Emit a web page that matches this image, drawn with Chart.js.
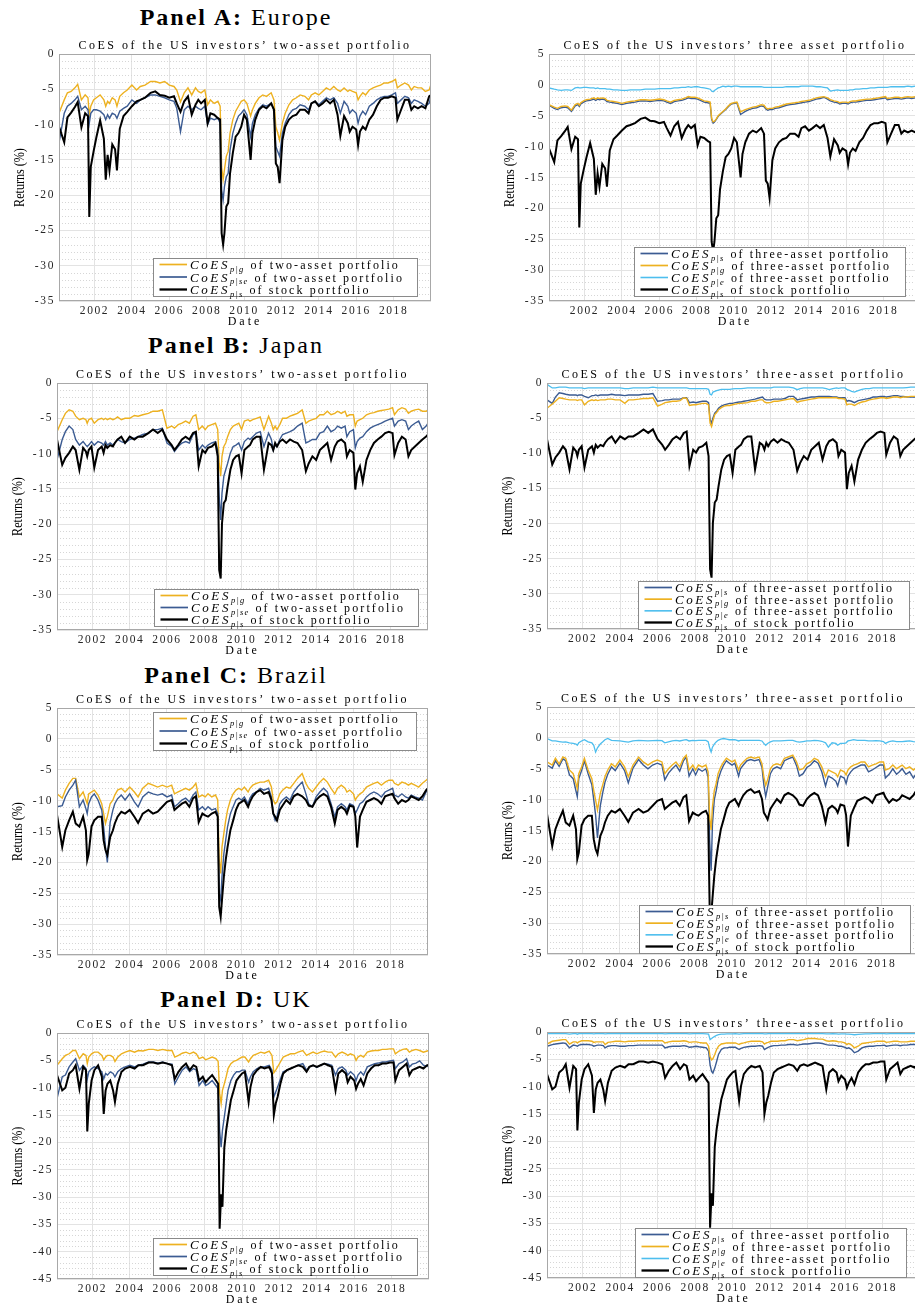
<!DOCTYPE html>
<html>
<head>
<meta charset="utf-8">
<script src="https://cdn.jsdelivr.net/npm/chart.js@4.4.1/dist/chart.umd.min.js"></script>
<style>
  html, body { margin: 0; padding: 0; width: 915px; height: 1305px; overflow: hidden; background: #fff; }
  .panel { position: absolute; transform: translateX(-50%); white-space: nowrap;
           font-family: "Liberation Serif", "Times New Roman", serif; font-size: 24px; line-height: 24px;
           letter-spacing: 2px; color: #000; }
  canvas { position: absolute; }
</style>
</head>
<body>
<div class="panel" style="left:236px; top:5px;"><b>Panel A:</b> Europe</div>
<div class="panel" style="left:236px; top:333px;"><b>Panel B:</b> Japan</div>
<div class="panel" style="left:236px; top:663px;"><b>Panel C:</b> Brazil</div>
<div class="panel" style="left:236px; top:987px;"><b>Panel D:</b> UK</div>

<canvas id="aL"></canvas><canvas id="aR"></canvas>
<canvas id="bL"></canvas><canvas id="bR"></canvas>
<canvas id="cL"></canvas><canvas id="cR"></canvas>
<canvas id="dL"></canvas><canvas id="dR"></canvas>

<script>
// dates as decimal years, one line per calendar year
const dates = [
  2000.10, 2000.38, 2000.55, 2000.75, 2000.95,
  2001.10, 2001.30, 2001.50, 2001.65, 2001.72, 2001.80, 2001.95,
  2002.10, 2002.30, 2002.50, 2002.60, 2002.70, 2002.80, 2002.95,
  2003.10, 2003.20, 2003.35, 2003.55, 2003.75,
  2004.00, 2004.25, 2004.45, 2004.70,
  2005.00, 2005.25, 2005.50, 2005.75,
  2006.00, 2006.25, 2006.40, 2006.60, 2006.80,
  2007.00, 2007.20, 2007.40, 2007.55, 2007.70, 2007.90,
  2008.05, 2008.20, 2008.40, 2008.60, 2008.72, 2008.80, 2008.88, 2008.95,
  2009.05, 2009.15, 2009.25, 2009.40, 2009.55, 2009.70, 2009.85,
  2010.00, 2010.15, 2010.35, 2010.45, 2010.60, 2010.80,
  2011.00, 2011.20, 2011.45, 2011.60, 2011.70, 2011.80, 2011.90,
  2012.05, 2012.20, 2012.40, 2012.60, 2012.80,
  2013.00, 2013.25, 2013.45, 2013.60, 2013.80,
  2014.00, 2014.20, 2014.40, 2014.60, 2014.80,
  2015.00, 2015.15, 2015.35, 2015.55, 2015.65, 2015.80,
  2016.00, 2016.10, 2016.20, 2016.35, 2016.50, 2016.70, 2016.90,
  2017.10, 2017.30, 2017.50, 2017.70, 2017.90,
  2018.10, 2018.20, 2018.40, 2018.60, 2018.80, 2018.95,
  2019.10, 2019.30, 2019.50, 2019.70, 2019.90, 2020.00
];

const xTicks = [2002, 2004, 2006, 2008, 2010, 2012, 2014, 2016, 2018];

// ---- Panel A: Europe ----
const euStock = [
  -10.3, -12.5, -9.0, -8.3, -7.5,
  -6.8, -10.4, -8.4, -8.8, -23.1, -16.0, -13.8,
  -11.8, -9.4, -12.0, -17.8, -14.3, -16.5, -12.8,
  -13.5, -16.5, -10.6, -8.8, -8.2,
  -7.4, -6.7, -6.5, -6.2,
  -5.5, -5.3, -5.8, -5.9,
  -6.2, -6.0, -7.0, -8.2, -6.7,
  -6.0, -8.6, -7.2, -6.5, -7.0, -6.5,
  -9.8, -8.4, -8.6, -9.1, -9.3, -25.4, -27.0, -25.4,
  -21.6, -21.1, -16.9, -14.0, -11.7, -11.2, -10.3,
  -8.6, -9.3, -15.0, -11.2, -9.3, -7.9,
  -7.4, -7.7, -7.0, -7.9, -15.5, -16.0, -18.3,
  -12.2, -10.3, -9.3, -8.8, -8.6,
  -7.9, -7.9, -8.4, -7.0, -6.7,
  -7.4, -7.0, -6.5, -7.0, -6.5,
  -8.6, -11.6, -8.8, -9.8, -11.0, -10.3,
  -10.7, -12.9, -11.0, -10.3, -10.7, -9.3, -8.6,
  -7.4, -6.5, -6.2, -6.2, -6.0,
  -6.2, -9.3, -7.9, -6.5, -6.5, -7.9,
  -7.4, -7.7, -7.4, -7.7, -6.0, -5.8
];
const euTwoG = [
  -8.4, -6.5, -5.5, -5.3, -4.8,
  -4.3, -6.5, -5.8, -6.2, -8.7, -7.4, -6.5,
  -6.2, -5.8, -6.5, -7.4, -6.7, -7.0, -6.2,
  -6.5, -7.4, -6.0, -5.5, -5.1,
  -4.4, -5.1, -4.6, -4.4,
  -3.9, -3.9, -4.1, -3.9,
  -4.4, -4.6, -5.1, -6.8, -5.5,
  -4.8, -5.8, -4.8, -5.3, -5.5, -5.1,
  -7.2, -6.5, -7.0, -6.7, -7.4, -16.0, -17.8, -16.4,
  -14.5, -13.8, -11.2, -9.3, -8.1, -7.4, -6.7,
  -6.5, -7.0, -8.8, -7.9, -7.0, -6.2,
  -5.8, -6.0, -5.5, -6.5, -10.3, -11.2, -12.2,
  -9.8, -8.4, -7.2, -6.5, -6.2,
  -5.8, -6.0, -6.5, -5.8, -5.5,
  -5.8, -5.3, -4.8, -5.1, -4.6,
  -5.1, -5.3, -4.8, -5.3, -5.1, -5.3,
  -5.5, -6.5, -6.0, -5.5, -5.8, -5.1, -4.8,
  -4.6, -4.4, -4.1, -4.1, -3.9,
  -3.6, -4.8, -4.4, -4.1, -4.4, -5.1,
  -4.6, -4.8, -4.8, -5.3, -5.1, -4.3
];
const euTwoSE = [
  -12.6, -8.4, -7.4, -7.0, -6.5,
  -6.0, -7.9, -7.4, -7.9, -9.8, -8.4, -7.9,
  -7.9, -8.1, -8.6, -9.3, -8.6, -9.1, -8.4,
  -8.6, -9.1, -8.1, -7.7, -7.4,
  -6.5, -7.0, -6.5, -6.2,
  -5.8, -5.8, -6.0, -6.2,
  -6.5, -6.7, -7.7, -11.0, -7.9,
  -7.4, -7.9, -7.4, -7.7, -7.9, -7.4,
  -10.0, -9.1, -9.3, -9.1, -9.8, -19.3, -20.7, -18.8,
  -17.4, -16.9, -13.6, -11.2, -9.8, -8.8, -8.4,
  -7.9, -8.6, -11.7, -9.8, -8.6, -7.7,
  -7.2, -7.4, -7.0, -7.9, -13.1, -13.8, -14.5,
  -11.2, -9.8, -8.6, -7.9, -7.7,
  -7.2, -7.4, -7.9, -7.0, -6.7,
  -7.2, -6.7, -6.2, -6.5, -6.2,
  -7.0, -8.4, -6.7, -7.4, -8.4, -7.9,
  -8.4, -9.8, -8.8, -8.1, -8.6, -7.4, -7.0,
  -6.5, -6.2, -6.0, -6.0, -5.8,
  -5.5, -7.0, -6.5, -6.0, -6.2, -7.0,
  -6.5, -6.7, -7.0, -7.4, -7.0, -6.0
];
const euThreeS = [
  -3.3, -3.8, -4.0, -3.7, -3.6,
  -3.7, -4.3, -3.4, -3.2, -3.5, -3.1, -2.8,
  -2.6, -2.5, -2.3, -2.5, -2.3, -2.4, -2.3,
  -2.4, -2.7, -2.8, -2.9, -3.0,
  -3.2, -3.0, -2.9, -2.8,
  -2.6, -2.6, -2.7, -2.6,
  -2.5, -2.6, -2.8, -3.0, -2.7,
  -2.6, -2.5, -2.3, -2.1, -2.2, -2.2,
  -2.3, -2.5, -2.8, -2.9, -3.0, -5.6, -6.2, -6.0,
  -5.6, -5.1, -4.8, -4.4, -4.0, -3.5, -3.1,
  -3.0, -2.9, -4.8, -4.6, -4.3, -4.0,
  -3.8, -3.7, -3.4, -3.5, -3.9, -4.1, -4.0,
  -4.0, -3.8, -3.7, -3.5, -3.3,
  -3.2, -3.1, -3.0, -2.9, -2.8,
  -2.7, -2.5, -2.3, -2.2, -2.0,
  -2.3, -2.6, -2.8, -2.9, -3.1, -3.0,
  -3.0, -3.1, -2.9, -2.8, -2.8, -2.7, -2.6,
  -2.5, -2.5, -2.4, -2.3, -2.2,
  -2.1, -2.4, -2.3, -2.2, -2.2, -2.3,
  -2.2, -2.1, -2.2, -2.1, -2.1, -2.2
];
const euThreeG = [
  -3.2, -3.6, -3.8, -3.5, -3.4,
  -3.5, -4.1, -3.2, -3.0, -3.3, -2.9, -2.6,
  -2.4, -2.3, -2.1, -2.3, -2.1, -2.2, -2.1,
  -2.2, -2.5, -2.6, -2.7, -2.8,
  -3.0, -2.8, -2.7, -2.6,
  -2.4, -2.4, -2.5, -2.4,
  -2.3, -2.4, -2.6, -2.8, -2.5,
  -2.4, -2.3, -2.1, -1.9, -2.0, -2.0,
  -2.1, -2.3, -2.6, -2.7, -2.8, -5.4, -6.0, -5.9,
  -5.5, -5.0, -4.7, -4.3, -3.9, -3.4, -3.0,
  -2.9, -2.8, -4.4, -4.2, -4.0, -3.8,
  -3.6, -3.5, -3.2, -3.3, -3.7, -3.9, -3.8,
  -3.8, -3.6, -3.5, -3.3, -3.1,
  -3.0, -2.9, -2.8, -2.7, -2.6,
  -2.5, -2.3, -2.1, -2.0, -1.9,
  -2.1, -2.4, -2.6, -2.7, -2.9, -2.8,
  -2.8, -2.9, -2.7, -2.6, -2.6, -2.5, -2.4,
  -2.3, -2.3, -2.2, -2.1, -2.0,
  -1.9, -2.2, -2.1, -2.0, -2.0, -2.1,
  -2.0, -1.9, -2.0, -1.9, -1.9, -2.0
];
const euThreeE = [
  -0.5, -0.7, -0.8, -0.9, -0.8,
  -0.8, -0.9, -0.5, -0.4, -0.5, -0.5, -0.4,
  -0.4, -0.5, -0.5, -0.6, -0.5, -0.6, -0.6,
  -0.6, -0.7, -0.7, -0.8, -0.8,
  -0.9, -0.9, -0.8, -0.8,
  -0.8, -0.7, -0.7, -0.7,
  -0.6, -0.6, -0.6, -0.6, -0.5,
  -0.5, -0.4, -0.4, -0.3, -0.4, -0.3,
  -0.3, -0.4, -0.5, -0.6, -0.7, -1.0, -1.1, -0.9,
  -0.7, -0.5, -0.4, -0.2, -0.3, -0.2, -0.3,
  -0.2, -0.2, -0.3, -0.3, -0.3, -0.3,
  -0.3, -0.3, -0.3, -0.4, -0.4, -0.4, -0.4,
  -0.4, -0.4, -0.4, -0.4, -0.3,
  -0.3, -0.3, -0.3, -0.2, -0.2,
  -0.2, -0.2, -0.3, -0.3, -0.4,
  -0.5, -1.0, -0.9, -0.8, -0.9, -0.9,
  -0.9, -0.9, -0.8, -0.8, -0.7, -0.7, -0.6,
  -0.6, -0.5, -0.5, -0.4, -0.4,
  -0.4, -0.4, -0.3, -0.3, -0.3, -0.3,
  -0.3, -0.2, -0.3, -0.2, -0.2, -0.2
];

// ---- Panel B: Japan ----
const jpStock = [
  -8.0, -11.6, -10.6, -9.9, -9.0,
  -9.5, -12.3, -9.2, -9.7, -10.4, -9.5, -9.0,
  -12.0, -9.5, -9.0, -9.9, -8.8, -9.2, -8.8,
  -9.0, -8.5, -8.0, -7.6, -8.5,
  -7.6, -8.0, -7.6, -7.6,
  -7.1, -6.6, -7.1, -6.6,
  -8.0, -8.8, -9.5, -8.8, -8.0,
  -7.6, -8.0, -7.1, -6.9, -11.8, -9.5,
  -9.9, -9.2, -9.0, -8.5, -10.4, -26.5, -27.7, -19.9,
  -17.0, -16.6, -14.7, -12.3, -10.9, -10.4, -10.2,
  -12.8, -9.5, -9.0, -8.8, -8.0, -7.6,
  -7.6, -12.3, -8.5, -8.8, -9.5, -8.5, -9.0,
  -8.3, -8.0, -8.5, -8.0, -8.3,
  -8.5, -9.5, -12.5, -11.4, -10.4,
  -10.9, -9.5, -9.0, -8.5, -10.9,
  -9.0, -8.3, -8.0, -8.5, -10.4, -9.5,
  -9.9, -15.1, -12.8, -11.8, -14.0, -10.9, -9.5,
  -8.5, -8.0, -7.6, -7.1, -6.9,
  -7.1, -10.2, -8.5, -7.6, -8.0, -10.4,
  -9.5, -9.0, -8.5, -8.0, -7.6, -7.3
];
const jpTwoG = [
  -6.9, -5.2, -4.3, -3.8, -4.0,
  -4.7, -5.2, -5.0, -5.2, -5.7, -5.2, -5.0,
  -5.7, -5.2, -5.0, -5.2, -5.0, -5.2, -5.0,
  -5.2, -5.1, -4.8, -5.2, -5.0,
  -5.0, -4.6, -4.7, -4.5,
  -4.3, -4.0, -4.0, -3.8,
  -6.4, -6.1, -6.4, -5.9, -5.7,
  -5.4, -5.7, -4.7, -4.5, -6.6, -6.1,
  -6.6, -6.1, -5.9, -5.7, -6.6, -11.4, -13.2, -10.4,
  -9.0, -8.5, -7.6, -6.6, -6.1, -5.9, -5.7,
  -6.6, -5.4, -5.2, -5.4, -5.2, -5.0,
  -4.8, -6.6, -4.7, -5.7, -6.6, -6.1, -6.6,
  -5.9, -5.0, -5.0, -4.7, -4.5,
  -4.3, -3.8, -5.7, -5.4, -5.2,
  -5.0, -4.5, -4.5, -4.0, -4.5,
  -4.3, -4.0, -4.3, -4.0, -4.7, -4.5,
  -4.5, -6.1, -5.4, -5.2, -5.0, -4.5, -4.3,
  -4.2, -4.0, -3.9, -3.8, -3.7,
  -3.5, -4.5, -3.8, -3.5, -3.7, -4.3,
  -4.0, -3.8, -3.7, -4.0, -4.0, -3.8
];
const jpTwoSE = [
  -10.9, -8.0, -6.9, -6.1, -6.6,
  -8.0, -8.8, -8.3, -8.8, -9.0, -8.8, -8.3,
  -8.8, -8.3, -8.5, -8.8, -8.3, -8.8, -8.5,
  -8.8, -8.5, -8.0, -8.3, -8.5,
  -8.0, -7.8, -7.6, -7.3,
  -7.1, -6.6, -6.6, -6.4,
  -8.5, -9.0, -9.7, -9.0, -8.5,
  -8.3, -8.5, -7.3, -7.1, -9.5, -8.8,
  -9.2, -8.8, -8.5, -8.3, -9.5, -16.1, -19.4, -15.6,
  -13.2, -12.3, -11.4, -9.9, -9.0, -8.8, -8.5,
  -9.5, -8.3, -7.8, -8.0, -7.6, -7.1,
  -6.9, -9.0, -7.1, -8.0, -9.5, -8.8, -9.0,
  -8.0, -7.3, -7.1, -6.9, -6.6,
  -6.1, -5.7, -8.5, -8.3, -8.0,
  -8.0, -7.1, -6.9, -6.1, -6.9,
  -6.6, -6.1, -6.4, -6.1, -7.6, -6.9,
  -6.6, -9.2, -8.3, -7.8, -7.6, -6.9, -6.4,
  -6.1, -5.9, -5.7, -5.4, -5.2,
  -5.0, -6.1, -5.4, -5.2, -5.4, -6.6,
  -6.1, -5.7, -5.4, -6.6, -6.1, -5.7
];
const jpThreeS = [
  -2.4, -2.9, -2.0, -1.4, -1.5,
  -1.6, -1.7, -1.7, -1.7, -1.8, -1.7, -1.7,
  -1.9, -2.1, -1.8, -1.8, -1.7, -1.8, -1.7,
  -1.7, -1.7, -1.7, -1.6, -1.7,
  -1.7, -1.8, -1.7, -1.7,
  -1.7, -1.6, -1.6, -1.5,
  -2.6, -2.5, -2.4, -2.4, -2.3,
  -2.3, -2.3, -2.1, -2.1, -2.8, -2.7,
  -2.8, -2.7, -2.6, -2.6, -2.8, -5.2, -5.7, -5.0,
  -4.3, -4.0, -3.6, -3.3, -3.1, -3.0, -2.9,
  -2.9, -2.8, -2.7, -2.7, -2.6, -2.5,
  -2.4, -2.3, -2.1, -2.0, -2.3, -2.4, -2.4,
  -2.4, -2.3, -2.3, -2.3, -2.2,
  -1.9, -1.9, -2.4, -2.3, -2.2,
  -2.1, -2.0, -2.0, -1.9, -1.9,
  -1.9, -1.9, -2.0, -2.0, -2.1, -2.1,
  -2.1, -2.6, -2.5, -2.6, -2.8, -2.5, -2.4,
  -2.3, -2.2, -2.0, -2.0, -1.9,
  -1.9, -2.0, -1.9, -1.8, -1.8, -1.9,
  -1.9, -2.0, -2.0, -2.0, -2.1, -2.1
];
const jpThreeG = [
  -3.6, -3.0, -2.6, -2.1, -2.2,
  -2.3, -2.4, -2.4, -2.4, -2.5, -2.4, -2.4,
  -3.1, -2.6, -2.4, -2.5, -2.4, -2.5, -2.4,
  -2.4, -2.4, -2.3, -2.3, -2.4,
  -2.4, -2.9, -2.4, -2.4,
  -2.3, -2.2, -2.2, -2.1,
  -3.3, -3.0, -2.8, -2.7, -2.6,
  -2.6, -2.5, -2.1, -2.2, -3.2, -3.1,
  -3.1, -3.0, -2.9, -2.9, -3.1, -5.7, -6.2, -5.4,
  -4.5, -4.2, -3.8, -3.5, -3.3, -3.2, -3.2,
  -3.1, -3.0, -2.9, -2.9, -2.85, -2.8,
  -2.6, -2.6, -2.4, -2.4, -2.7, -2.8, -2.8,
  -2.75, -2.6, -2.6, -2.5, -2.4,
  -2.3, -2.2, -2.75, -2.6, -2.5,
  -2.4, -2.3, -2.2, -2.1, -2.1,
  -2.1, -2.1, -2.1, -2.1, -2.2, -2.2,
  -2.3, -3.1, -3.0, -3.0, -3.2, -2.9, -2.7,
  -2.6, -2.4, -2.3, -2.2, -2.1,
  -2.1, -2.2, -2.1, -2.0, -2.0, -2.1,
  -2.0, -2.0, -1.9, -1.9, -1.9, -1.9
];
const jpThreeE = [
  -0.2, -0.7, -0.7, -0.6, -0.6,
  -0.6, -0.7, -0.7, -0.7, -0.7, -0.7, -0.7,
  -0.8, -0.7, -0.7, -0.7, -0.7, -0.7, -0.7,
  -0.7, -0.7, -0.7, -0.7, -0.7,
  -0.7, -0.8, -0.8, -0.7,
  -0.7, -0.7, -0.7, -0.6,
  -0.7, -0.7, -0.7, -0.7, -0.7,
  -0.7, -0.7, -0.7, -0.7, -0.8, -0.8,
  -0.8, -0.8, -0.8, -0.8, -0.9, -1.6, -1.7, -1.3,
  -1.2, -1.1, -1.0, -0.9, -0.9, -0.9, -0.9,
  -0.85, -0.8, -0.8, -0.8, -0.75, -0.7,
  -0.7, -0.7, -0.7, -0.7, -0.7, -0.7, -0.7,
  -0.7, -0.6, -0.6, -0.6, -0.6,
  -0.6, -0.7, -0.95, -0.8, -0.7,
  -0.7, -0.7, -0.7, -0.7, -0.7,
  -0.8, -0.95, -0.8, -0.7, -0.75, -0.7,
  -0.7, -0.9, -1.0, -1.2, -1.3, -1.1, -0.9,
  -0.8, -0.8, -0.7, -0.7, -0.7,
  -0.7, -0.7, -0.7, -0.7, -0.7, -0.7,
  -0.7, -0.65, -0.6, -0.6, -0.6, -0.6
];

// ---- Panel C: Brazil ----
const brStock = [
  -12.3, -17.5, -14.8, -13.2, -11.8,
  -13.7, -14.2, -12.6, -14.8, -19.6, -18.6, -14.2,
  -13.2, -12.6, -12.6, -16.4, -18.0, -18.8, -15.9,
  -14.8, -13.7, -12.6, -11.8, -12.1,
  -11.5, -12.6, -13.6, -12.1,
  -11.5, -12.1, -11.8, -11.0,
  -10.2, -9.9, -11.5, -11.0, -10.5,
  -10.2, -11.0, -9.6, -9.3, -13.5, -12.1,
  -12.4, -12.6, -12.1, -11.8, -12.6, -27.2, -28.8, -26.1,
  -22.3, -19.6, -17.5, -14.8, -13.2, -11.5, -10.5,
  -10.2, -9.9, -11.0, -10.2, -9.3, -8.6,
  -8.3, -8.9, -8.6, -9.9, -12.1, -12.6, -13.2,
  -11.5, -10.8, -9.9, -10.5, -9.3,
  -8.9, -9.3, -9.9, -10.8, -11.0,
  -9.9, -9.3, -8.9, -9.3, -11.0,
  -13.7, -11.5, -11.0, -11.5, -12.1, -10.8,
  -11.0, -12.5, -17.6, -12.6, -11.5, -10.2, -9.9,
  -9.6, -9.9, -10.5, -9.3, -9.1,
  -8.9, -9.6, -10.5, -9.9, -10.2, -9.9,
  -9.3, -9.6, -9.9, -9.3, -8.3, -8.0
];
const brTwoG = [
  -8.9, -9.6, -8.3, -7.2, -6.4,
  -6.4, -9.4, -8.6, -9.9, -10.5, -8.9, -8.6,
  -8.3, -9.1, -10.5, -12.1, -13.7, -12.6, -10.5,
  -9.9, -9.1, -8.3, -8.0, -8.6,
  -7.8, -8.6, -9.4, -8.0,
  -7.2, -7.5, -7.8, -7.5,
  -7.8, -7.5, -8.9, -8.6, -8.3,
  -8.0, -8.3, -7.8, -7.2, -9.4, -9.1,
  -9.4, -8.9, -9.4, -9.1, -9.9, -19.6, -21.8, -17.5,
  -15.3, -13.2, -11.5, -9.9, -8.9, -8.3, -8.0,
  -8.3, -7.8, -8.6, -8.0, -7.5, -7.2,
  -7.0, -7.0, -6.7, -7.8, -9.9, -10.5, -10.2,
  -8.9, -8.3, -7.8, -8.0, -7.2,
  -6.4, -5.6, -7.2, -8.0, -8.6,
  -7.8, -7.0, -6.4, -7.0, -8.0,
  -8.9, -8.0, -7.5, -8.0, -8.6, -8.3,
  -8.9, -9.9, -9.4, -8.9, -8.6, -7.8, -7.5,
  -7.2, -7.0, -7.5, -7.0, -6.7,
  -6.7, -7.2, -7.5, -7.0, -7.2, -7.5,
  -7.2, -7.5, -7.8, -7.2, -6.7, -6.4
];
const brTwoSE = [
  -11.0, -10.8, -9.4, -8.3, -7.5,
  -6.7, -11.0, -9.9, -11.3, -12.1, -10.5, -9.4,
  -8.9, -9.9, -11.5, -14.2, -17.5, -20.0, -13.5,
  -11.5, -10.5, -9.7, -9.1, -9.9,
  -8.9, -10.2, -11.0, -9.4,
  -8.6, -8.9, -9.1, -8.9,
  -9.4, -9.1, -11.0, -10.5, -9.9,
  -9.6, -10.2, -9.1, -8.6, -11.5, -11.0,
  -11.5, -11.0, -11.5, -11.3, -12.1, -25.0, -26.1, -22.3,
  -18.6, -16.4, -14.2, -12.1, -11.0, -9.9, -9.6,
  -9.9, -9.4, -10.5, -9.6, -8.9, -8.6,
  -8.0, -8.3, -8.0, -9.4, -12.1, -13.2, -12.6,
  -10.5, -9.9, -9.4, -9.9, -8.6,
  -7.8, -7.0, -8.9, -10.5, -11.0,
  -9.4, -8.6, -8.0, -8.6, -10.5,
  -12.6, -11.0, -10.5, -11.0, -11.5, -10.5,
  -10.8, -12.1, -11.5, -10.5, -10.2, -9.4, -8.9,
  -8.6, -8.9, -9.4, -8.6, -8.3,
  -8.0, -9.1, -9.4, -8.9, -9.4, -9.6,
  -9.1, -9.4, -9.6, -9.9, -8.6, -8.0
];
const brThreeS = [
  -4.4, -4.9, -3.7, -4.6, -3.4,
  -3.7, -6.0, -6.6, -8.6, -9.5, -6.6, -5.3,
  -3.7, -5.8, -7.6, -10.0, -12.5, -16.2, -11.0,
  -8.6, -7.2, -5.9, -4.7, -5.3,
  -4.1, -5.3, -7.3, -4.9,
  -3.5, -4.4, -5.0, -4.4,
  -4.1, -4.4, -6.8, -5.7, -5.0,
  -4.4, -5.4, -3.7, -3.1, -6.2, -5.0,
  -6.0, -5.0, -5.4, -5.0, -6.4, -16.5, -21.5, -14.0,
  -10.0, -8.6, -6.8, -5.4, -4.4, -3.7, -4.1,
  -4.4, -4.1, -6.2, -5.0, -4.4, -3.7,
  -3.5, -3.7, -3.5, -4.8, -7.6, -9.5, -8.0,
  -5.8, -5.0, -4.7, -5.0, -3.7,
  -3.4, -3.1, -4.5, -6.2, -5.8,
  -4.8, -4.4, -3.7, -4.1, -5.5,
  -7.8, -6.2, -6.5, -7.0, -7.8, -6.2,
  -6.5, -7.4, -6.2, -5.5, -5.0, -4.7, -4.4,
  -4.4, -5.5, -5.2, -4.8, -4.4,
  -4.4, -6.5, -5.9, -5.0, -5.9, -5.5,
  -5.0, -5.9, -5.5, -6.5, -5.6, -5.0
];
const brThreeG = [
  -3.9, -4.4, -3.3, -4.2, -3.1,
  -3.3, -5.2, -5.8, -7.4, -8.2, -5.8, -4.7,
  -3.3, -5.2, -6.6, -8.5, -10.1, -11.7, -9.0,
  -7.4, -6.3, -5.2, -4.2, -4.7,
  -3.6, -4.7, -6.3, -4.4,
  -3.1, -3.9, -4.4, -3.9,
  -3.6, -3.9, -5.8, -5.0, -4.4,
  -3.9, -4.7, -3.3, -2.8, -5.2, -4.4,
  -5.2, -4.4, -4.7, -4.4, -5.5, -12.8, -14.9, -11.2,
  -8.5, -7.4, -5.8, -4.7, -3.9, -3.3, -3.6,
  -3.9, -3.6, -5.2, -4.4, -3.9, -3.3,
  -3.1, -3.3, -3.1, -4.2, -6.3, -7.7, -6.8,
  -5.0, -4.4, -4.2, -4.4, -3.3,
  -3.1, -2.8, -3.9, -5.2, -5.0,
  -4.2, -3.9, -3.3, -3.6, -4.7,
  -6.3, -5.2, -5.5, -5.8, -6.3, -5.2,
  -5.5, -6.0, -5.2, -4.7, -4.4, -4.2, -3.9,
  -3.9, -4.7, -4.4, -4.2, -3.9,
  -3.9, -5.2, -5.0, -4.4, -5.0, -4.7,
  -4.4, -5.0, -4.7, -5.2, -4.7, -4.4
];
const brThreeE = [
  -0.1, -0.5, -0.5, -0.6, -0.7,
  -0.65, -0.8, -0.9, -1.0, -1.2, -0.8, -0.5,
  -0.3, -0.65, -0.8, -1.2, -2.3, -1.6, -1.0,
  -0.6, -0.3, -0.1, -0.4, -0.45,
  -0.5, -0.6, -0.7, -0.5,
  -0.4, -0.45, -0.5, -0.45,
  -0.4, -0.45, -0.8, -0.65, -0.5,
  -0.4, -0.5, -0.35, -0.3, -0.5, -0.4,
  -0.45, -0.4, -0.4, -0.4, -0.6, -1.6, -2.3, -1.5,
  -1.0, -0.65, -0.4, -0.2, -0.1, -0.2, -0.3,
  -0.3, -0.3, -0.5, -0.4, -0.4, -0.4,
  -0.4, -0.4, -0.4, -0.5, -0.9, -1.2, -0.9,
  -0.65, -0.5, -0.5, -0.5, -0.45,
  -0.4, -0.4, -0.6, -0.7, -0.6,
  -0.5, -0.5, -0.4, -0.45, -0.55,
  -0.8, -1.5, -0.8, -0.9, -1.2, -0.9,
  -0.9, -0.8, -0.5, -0.4, -0.3, -0.4, -0.4,
  -0.4, -0.5, -0.5, -0.45, -0.5,
  -0.6, -0.9, -0.6, -0.5, -0.6, -0.6,
  -0.6, -0.55, -0.5, -0.6, -0.65, -0.65
];

// ---- Panel D: UK ----
const ukStock = [
  -7.7, -10.5, -10.0, -7.4, -6.8,
  -5.9, -10.2, -6.2, -6.8, -18.0, -12.9, -8.7,
  -6.8, -5.9, -8.0, -14.8, -10.5, -9.3, -8.7,
  -10.5, -12.6, -9.3, -7.1, -6.5,
  -6.2, -6.5, -5.9, -5.9,
  -5.4, -5.4, -5.6, -5.4,
  -5.6, -5.9, -8.4, -7.1, -6.2,
  -5.6, -6.8, -5.9, -6.2, -8.7, -8.0,
  -9.0, -8.4, -7.7, -8.7, -9.3, -35.8, -29.5, -31.8,
  -21.0, -17.8, -15.5, -12.3, -10.5, -8.7, -8.0,
  -7.4, -7.1, -12.6, -9.9, -7.7, -6.8,
  -6.2, -6.5, -6.2, -7.4, -15.0, -12.9, -11.7,
  -9.3, -7.4, -6.8, -6.5, -6.2,
  -5.9, -6.2, -7.1, -6.2, -5.9,
  -6.2, -5.9, -5.6, -5.9, -6.2,
  -10.5, -7.4, -6.8, -7.4, -9.0, -8.0,
  -8.7, -10.2, -9.3, -8.4, -9.6, -7.4, -6.5,
  -5.9, -5.9, -5.6, -5.6, -5.4,
  -5.4, -8.7, -6.8, -6.2, -5.6, -7.7,
  -6.8, -6.5, -6.2, -6.5, -5.9, -5.9
];
const ukTwoG = [
  -5.9, -4.7, -4.1, -3.8, -3.2,
  -3.2, -4.7, -3.8, -4.1, -5.6, -4.4, -3.8,
  -3.5, -3.5, -4.1, -4.9, -4.4, -4.1, -4.1,
  -4.4, -5.2, -4.4, -3.8, -3.5,
  -3.2, -3.5, -3.2, -3.3,
  -3.0, -3.0, -3.2, -3.0,
  -3.2, -3.2, -4.4, -4.1, -3.7,
  -3.5, -3.8, -3.5, -3.8, -4.7, -4.4,
  -4.9, -4.7, -4.4, -4.7, -5.2, -11.0, -12.9, -10.5,
  -9.3, -8.0, -6.5, -5.6, -5.2, -5.0, -4.7,
  -4.4, -4.4, -5.3, -4.7, -4.1, -3.8,
  -3.5, -3.7, -3.3, -4.1, -7.3, -6.8, -6.2,
  -5.3, -4.4, -4.1, -3.8, -3.8,
  -3.5, -3.2, -4.1, -3.8, -3.5,
  -3.8, -3.5, -3.3, -3.5, -3.5,
  -4.4, -3.8, -3.5, -3.8, -4.1, -3.8,
  -4.1, -5.0, -4.4, -4.1, -4.4, -3.5, -3.3,
  -3.2, -3.2, -3.0, -3.0, -2.9,
  -2.9, -3.8, -3.3, -3.0, -2.9, -3.5,
  -3.2, -3.0, -3.2, -3.5, -3.3, -3.2
];
const ukTwoSE = [
  -12.0, -8.0, -7.7, -6.2, -5.3,
  -4.7, -6.8, -5.9, -6.5, -8.4, -7.1, -6.5,
  -6.2, -6.5, -7.1, -8.4, -7.4, -7.7, -7.1,
  -7.4, -8.0, -7.1, -6.5, -6.2,
  -5.9, -6.2, -5.9, -5.7,
  -5.3, -5.3, -5.5, -5.3,
  -5.6, -5.7, -9.3, -8.0, -6.8,
  -6.2, -7.1, -6.5, -6.8, -9.6, -8.7,
  -9.6, -9.3, -8.7, -9.6, -10.2, -17.8, -20.9, -17.8,
  -15.4, -12.9, -10.5, -8.7, -7.7, -7.1, -7.1,
  -6.8, -6.8, -9.0, -8.0, -7.1, -6.5,
  -6.2, -6.2, -5.9, -6.8, -11.7, -10.8, -9.9,
  -8.4, -7.1, -6.8, -6.5, -6.2,
  -5.9, -5.6, -6.8, -6.2, -5.9,
  -6.3, -5.9, -5.6, -5.7, -5.9,
  -7.7, -6.5, -6.2, -6.8, -7.7, -7.1,
  -7.7, -8.7, -7.7, -7.1, -7.7, -6.2, -5.9,
  -5.6, -5.5, -5.3, -5.3, -5.1,
  -5.0, -6.5, -5.6, -5.3, -4.7, -6.2,
  -5.7, -5.5, -5.1, -5.9, -6.1, -5.6
];
const ukThreeS = [
  -2.6, -2.3, -2.2, -2.1, -2.0,
  -2.1, -2.9, -2.4, -2.5, -2.6, -2.4, -2.3,
  -2.3, -2.3, -2.4, -2.6, -2.5, -2.4, -2.4,
  -2.5, -2.9, -2.6, -2.5, -2.5,
  -2.6, -2.6, -2.5, -2.5,
  -2.4, -2.4, -2.4, -2.4,
  -2.4, -2.4, -2.9, -2.7, -2.6,
  -2.6, -2.6, -2.5, -2.6, -2.8, -2.7,
  -2.6, -2.7, -2.8, -2.9, -3.5, -6.0, -7.2, -7.5,
  -6.6, -5.4, -4.1, -3.2, -2.9, -2.9, -2.8,
  -2.8, -2.8, -3.2, -3.0, -2.8, -2.7,
  -2.6, -2.6, -2.5, -2.6, -3.2, -3.0, -2.8,
  -2.6, -2.5, -2.5, -2.4, -2.4,
  -2.3, -2.3, -2.4, -2.3, -2.2,
  -2.2, -2.1, -2.0, -2.0, -2.1,
  -2.3, -2.4, -2.4, -2.5, -2.6, -2.6,
  -2.8, -3.0, -2.9, -3.2, -3.8, -3.5, -2.9,
  -2.7, -2.6, -2.6, -2.5, -2.5,
  -2.4, -2.6, -2.5, -2.4, -2.4, -2.5,
  -2.4, -2.4, -2.3, -2.3, -2.3, -2.3
];
const ukThreeG = [
  -2.2, -1.7, -1.6, -1.5, -1.4,
  -1.4, -2.2, -1.8, -1.8, -2.0, -1.8, -1.6,
  -1.6, -1.6, -1.7, -1.9, -1.8, -1.8, -1.8,
  -1.8, -2.3, -1.9, -1.8, -1.7,
  -1.7, -1.8, -1.7, -1.7,
  -1.6, -1.6, -1.6, -1.6,
  -1.6, -1.6, -2.0, -1.8, -1.7,
  -1.7, -1.7, -1.6, -1.7, -1.9, -1.8,
  -1.8, -1.9, -2.0, -2.0, -2.6, -4.5, -5.1, -4.9,
  -4.1, -3.2, -2.6, -2.2, -2.1, -2.0, -2.0,
  -2.0, -2.0, -2.3, -2.1, -2.0, -1.8,
  -1.7, -1.7, -1.7, -1.8, -2.2, -2.0, -1.9,
  -1.7, -1.7, -1.7, -1.6, -1.6,
  -1.4, -1.4, -1.6, -1.5, -1.4,
  -1.2, -1.2, -1.2, -1.3, -1.3,
  -1.6, -1.7, -1.6, -1.7, -1.8, -1.8,
  -2.0, -2.3, -2.1, -2.4, -2.9, -2.6, -2.1,
  -2.0, -1.9, -1.8, -1.7, -1.7,
  -1.7, -1.9, -1.8, -1.7, -1.7, -1.8,
  -1.8, -1.8, -1.7, -1.7, -1.7, -1.7
];
const ukThreeE = [
  -0.3, -0.3, -0.3, -0.3, -0.3,
  -0.3, -0.4, -0.3, -0.3, -0.4, -0.3, -0.3,
  -0.3, -0.3, -0.3, -0.35, -0.3, -0.3, -0.3,
  -0.3, -0.35, -0.3, -0.3, -0.3,
  -0.3, -0.3, -0.3, -0.3,
  -0.3, -0.3, -0.3, -0.3,
  -0.3, -0.3, -0.35, -0.3, -0.3,
  -0.3, -0.3, -0.3, -0.3, -0.35, -0.3,
  -0.3, -0.3, -0.3, -0.35, -0.4, -1.4, -1.2, -1.0,
  -0.8, -0.6, -0.5, -0.4, -0.4, -0.35, -0.35,
  -0.35, -0.3, -0.4, -0.35, -0.3, -0.3,
  -0.3, -0.3, -0.3, -0.3, -0.35, -0.35, -0.3,
  -0.3, -0.3, -0.3, -0.3, -0.3,
  -0.3, -0.3, -0.3, -0.3, -0.3,
  -0.3, -0.3, -0.3, -0.3, -0.3,
  -0.35, -0.35, -0.3, -0.35, -0.4, -0.35,
  -0.35, -0.4, -0.4, -0.45, -0.5, -0.45, -0.4,
  -0.35, -0.35, -0.3, -0.3, -0.3,
  -0.3, -0.35, -0.3, -0.3, -0.3, -0.3,
  -0.3, -0.3, -0.3, -0.3, -0.3, -0.3
];

const ORANGE = '#EDB120';
const BLUE = '#3B5B92';
const SKY = '#4DBEEE';
const BLACK = '#000000';
const SERIF = '"Liberation Serif", "Times New Roman", serif';

function pts(arr) {
  if (arr.length !== dates.length) console.warn('length mismatch', arr.length);
  return dates.map((d, i) => ({ x: d, y: arr[i] }));
}

function twoAsset(g, se, s) {
  return [
    { data: g, color: ORANGE, width: 1.4, sub: 'p|g', text: 'of two-asset portfolio' },
    { data: se, color: BLUE, width: 1.4, sub: 'p|se', text: 'of two-asset portfolio' },
    { data: s, color: BLACK, width: 2.0, sub: 'p|s', text: 'of stock portfolio' }
  ];
}
function threeAsset(ts, tg, te, s) {
  return [
    { data: ts, color: BLUE, width: 1.4, sub: 'p|s', text: 'of three-asset portfolio' },
    { data: tg, color: ORANGE, width: 1.4, sub: 'p|g', text: 'of three-asset portfolio' },
    { data: te, color: SKY, width: 1.3, sub: 'p|e', text: 'of three-asset portfolio' },
    { data: s, color: BLACK, width: 2.0, sub: 'p|s', text: 'of stock portfolio' }
  ];
}

function makeChart(id, box, yRange, title, series, leg) {
  const cv = document.getElementById(id);
  const W = box.r - box.l + 66, H = box.b - box.t + 64;
  cv.width = W; cv.height = H;
  cv.style.width = W + 'px'; cv.style.height = H + 'px';
  cv.style.left = (box.l - 56) + 'px';
  cv.style.top = (box.t - 30) + 'px';

  const overlay = {
    id: 'overlay',
    beforeLayout(chart) { chart.ctx.letterSpacing = '1.6px'; },
    beforeDraw(chart) { chart.ctx.letterSpacing = '1.6px'; },
    beforeDatasetsDraw(chart) {
      // dotted minor grid every 1 %
      const { ctx, chartArea: a, scales: { y } } = chart;
      ctx.save();
      ctx.strokeStyle = '#d6d6d6';
      ctx.lineWidth = 1;
      ctx.setLineDash([1, 2]);
      for (let v = yRange[0] + 1; v < yRange[1]; v++) {
        if (v % 5 === 0) continue;
        const py = Math.round(y.getPixelForValue(v)) + 0.5;
        ctx.beginPath(); ctx.moveTo(a.left, py); ctx.lineTo(a.right, py); ctx.stroke();
      }
      ctx.restore();
    },
    afterDatasetsDraw(chart) {
      const { ctx, chartArea: a } = chart;
      ctx.save();
      ctx.strokeStyle = '#a8a8a8';
      ctx.lineWidth = 1;
      ctx.strokeRect(Math.round(a.left) + 0.5, Math.round(a.top) + 0.5,
                     Math.round(a.width) - 1, Math.round(a.height) - 1);
      ctx.restore();
    },
    afterDraw(chart) {
      const { ctx, chartArea: a } = chart;
      ctx.save();
      ctx.fillStyle = '#000';
      ctx.textAlign = 'center';
      ctx.textBaseline = 'alphabetic';
      ctx.font = '12px ' + SERIF;
      ctx.letterSpacing = '2.5px';
      ctx.fillText(title, (a.left + a.right) / 2, a.top - 5);
      ctx.letterSpacing = '3px';
      ctx.fillText('Date', (a.left + a.right) / 2, a.bottom + 24);
      ctx.restore();

      // condensed rotated y title
      ctx.save();
      ctx.fillStyle = '#000';
      ctx.letterSpacing = '0px';
      ctx.font = '15.5px ' + SERIF;
      ctx.translate(a.left - 39, (a.top + a.bottom) / 2);
      ctx.rotate(-Math.PI / 2);
      ctx.scale(0.78, 1);
      ctx.textAlign = 'center';
      ctx.textBaseline = 'middle';
      ctx.fillText('Returns (%)', 0, 0);
      ctx.restore();

      // legend box
      const lx = Math.round(a.left + leg.x), ly = Math.round(a.top + leg.y);
      ctx.save();
      ctx.fillStyle = '#fff';
      ctx.fillRect(lx, ly, leg.w, leg.h);
      ctx.strokeStyle = '#8a8a8a';
      ctx.lineWidth = 1;
      ctx.strokeRect(lx + 0.5, ly + 0.5, leg.w, leg.h);
      const step = (leg.h - 13) / (series.length - 1);
      series.forEach((s, i) => {
        const cy = ly + 6.5 + i * step;
        ctx.strokeStyle = s.color;
        ctx.lineWidth = s.width + 0.3;
        ctx.beginPath(); ctx.moveTo(lx + 6.5, cy); ctx.lineTo(lx + 34, cy); ctx.stroke();
        let tx = lx + 37;
        ctx.fillStyle = '#000';
        ctx.textAlign = 'left';
        ctx.textBaseline = 'alphabetic';
        ctx.font = 'italic 13px ' + SERIF;
        ctx.letterSpacing = '2.6px';
        ctx.fillText('CoES', tx, cy + 4.5);
        tx += ctx.measureText('CoES').width;
        ctx.font = 'italic 8.5px ' + SERIF;
        ctx.letterSpacing = '1.2px';
        ctx.fillText(s.sub, tx, cy + 7);
        tx += ctx.measureText(s.sub).width + 6;
        ctx.font = '12px ' + SERIF;
        ctx.letterSpacing = '2.1px';
        ctx.fillText(s.text, tx, cy + 4.5);
      });
      ctx.restore();
    }
  };

  const tickFont = { family: SERIF, size: 11.5 };
  return new Chart(cv, {
    type: 'line',
    data: {
      // last legend row is drawn on top
      datasets: series.slice().reverse().map(s => ({
        data: pts(s.data),
        borderColor: s.color,
        borderWidth: s.width,
        pointRadius: 0,
        tension: 0,
        fill: false
      }))
    },
    options: {
      responsive: false,
      animation: false,
      devicePixelRatio: 1,
      layout: { padding: { left: 0, top: 30, right: 10, bottom: 0 } },
      plugins: { legend: { display: false }, tooltip: { enabled: false }, title: { display: false } },
      scales: {
        x: {
          type: 'linear', min: 2000.1, max: 2020,
          afterBuildTicks: sc => { sc.ticks = xTicks.map(v => ({ value: v })); },
          afterFit: sc => { sc.height = 34; },
          grid: { color: '#e3e3e3', drawTicks: false, tickLength: 0 },
          border: { display: false },
          ticks: { padding: 3, color: '#262626', font: tickFont, autoSkip: false, maxRotation: 0,
                   callback: v => String(v) }
        },
        y: {
          min: yRange[0], max: yRange[1],
          afterFit: sc => { sc.width = 56; },
          grid: { color: '#e3e3e3', drawTicks: false, tickLength: 0 },
          border: { display: false },
          ticks: { stepSize: 5, padding: 4, color: '#262626', font: tickFont, autoSkip: false,
                   callback: v => String(v) }
        }
      }
    },
    plugins: [overlay]
  });
}

const TWO = 'CoES of the US investors\u2019 two-asset portfolio';
const THREE = 'CoES of the US investors\u2019 three-asset portfolio';

makeChart('aL', { l: 59, t: 54, r: 431, b: 301 }, [-35, 0], TWO,
  twoAsset(euTwoG, euTwoSE, euStock), { x: 94, y: 204, w: 264, h: 38 });
makeChart('aR', { l: 549, t: 54, r: 921, b: 301 }, [-35, 5], 'CoES of the US investors\u2019 three asset portfolio',
  threeAsset(euThreeS, euThreeG, euThreeE, euStock), { x: 85, y: 193, w: 271, h: 49 });

makeChart('bL', { l: 57, t: 383, r: 428, b: 630 }, [-35, 0], TWO,
  twoAsset(jpTwoG, jpTwoSE, jpStock), { x: 97, y: 206, w: 264, h: 37 });
makeChart('bR', { l: 547, t: 383, r: 920, b: 629 }, [-35, 0], THREE,
  threeAsset(jpThreeS, jpThreeG, jpThreeE, jpStock), { x: 91, y: 198, w: 271, h: 48 });

makeChart('cL', { l: 57, t: 708, r: 428, b: 955 }, [-35, 5], TWO,
  twoAsset(brTwoG, brTwoSE, brStock), { x: 96, y: 4, w: 263, h: 38 });
makeChart('cR', { l: 547, t: 707, r: 919, b: 954 }, [-35, 5], THREE,
  threeAsset(brThreeS, brThreeG, brThreeE, brStock), { x: 92, y: 198, w: 271, h: 48 });

makeChart('dL', { l: 57, t: 1033, r: 429, b: 1279 }, [-45, 0], TWO,
  twoAsset(ukTwoG, ukTwoSE, ukStock), { x: 96, y: 205, w: 264, h: 37 });
makeChart('dR', { l: 547, t: 1032, r: 920, b: 1278 }, [-45, 0], THREE,
  threeAsset(ukThreeS, ukThreeG, ukThreeE, ukStock), { x: 88, y: 196, w: 271, h: 49 });
</script>
</body>
</html>
